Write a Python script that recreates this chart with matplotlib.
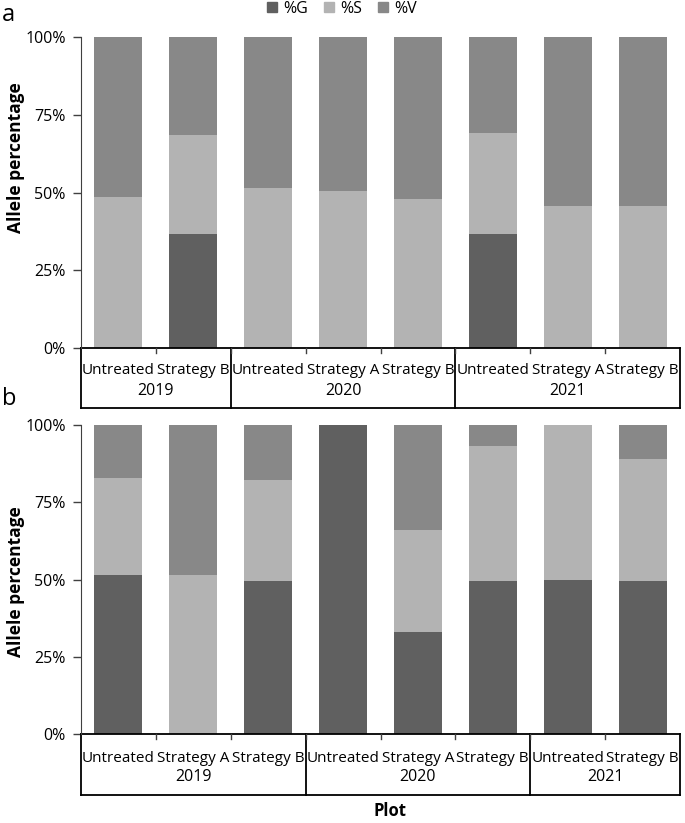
import matplotlib.pyplot as plt
from matplotlib.patches import Patch
from matplotlib.transforms import blended_transform_factory

# panel a data
years_a = ["2019", "2020", "2021"]
plots_a = [["Untreated", "Strategy B"],
           ["Untreated", "Strategy A", "Strategy B"],
           ["Untreated", "Strategy A", "Strategy B"]]
g_a = [0, 36.5, 0, 0, 0, 36.5, 0, 0]
s_a = [48.5, 32.0, 51.5, 50.5, 48.0, 32.5, 45.5, 45.5]
v_a = [51.5, 31.5, 48.5, 49.5, 52.0, 31.0, 54.5, 54.5]

# panel b data
years_b = ["2019", "2020", "2021"]
plots_b = [["Untreated", "Strategy A", "Strategy B"],
           ["Untreated", "Strategy A", "Strategy B"],
           ["Untreated", "Strategy B"]]
g_b = [51.4, 0, 49.6, 100, 32.9, 49.4, 49.9, 49.6]
s_b = [31.5, 51.3, 32.7, 0, 33.2, 43.9, 50.1, 39.3]
v_b = [17.1, 48.7, 17.7, 0, 33.9, 6.7, 0, 11.1]

series_names = ["%G", "%S", "%V"]
colors = ["#606060", "#b3b3b3", "#888888"]

W, H = 685, 823
plt.rcParams['font.family'] = ['Open Sans', 'DejaVu Sans']
fig = plt.figure(figsize=(W / 100, H / 100), dpi=100)


def fy(py):
    # pixel row -> figure fraction
    return 1 - py / H


def draw_panel(top, bottom, box_bottom, row1_y, row2_y, years, plots, g, s, v, ylab_y):
    left, right = 81, 680
    ax = fig.add_axes([left / W, fy(bottom), (right - left) / W, (bottom - top) / H])
    ax.patch.set_visible(False)
    n = sum(len(p) for p in plots)
    x = list(range(n))
    ax.bar(x, g, width=0.64, color=colors[0], zorder=2)
    ax.bar(x, s, width=0.64, bottom=g, color=colors[1], zorder=2)
    sv = [a + b for a, b in zip(g, s)]
    ax.bar(x, v, width=0.64, bottom=sv, color=colors[2], zorder=2)
    ax.set_xlim(-0.5, n - 0.5)
    ax.set_ylim(0, 100)
    ax.set_yticks([0, 25, 50, 75, 100])
    ax.set_yticklabels(["0%", "25%", "50%", "75%", "100%"], fontsize=11.5)
    ax.tick_params(axis='y', length=6, width=1, color='#404040', pad=5)
    ax.set_xticks([])
    for side in ['top', 'right', 'bottom']:
        ax.spines[side].set_visible(False)
    ax.spines['left'].set_color('#404040')
    fig.text(16 / W, fy(ylab_y), "Allele percentage", fontsize=12.5, fontweight='bold',
             rotation=90, ha='center', va='center')

    tr = blended_transform_factory(ax.transData, fig.transFigure)
    lw = 1.3
    # top and bottom of label box
    ax.plot([-0.5, n - 0.5], [fy(bottom), fy(bottom)], transform=tr, color='black', lw=lw, clip_on=False)
    ax.plot([-0.5, n - 0.5], [fy(box_bottom), fy(box_bottom)], transform=tr, color='black', lw=lw, clip_on=False)
    # group separators and ticks
    i = 0
    edges = [-0.5]
    for grp in plots:
        i += len(grp)
        edges.append(i - 0.5)
    for e in edges:
        ax.plot([e, e], [fy(bottom), fy(box_bottom)], transform=tr, color='black', lw=lw, clip_on=False)
    for k in range(1, n):
        ax.plot([k - 0.5, k - 0.5], [fy(bottom), fy(bottom + 5)], transform=tr,
                color='#404040', lw=1, clip_on=False)
    # labels
    idx = 0
    for yr, grp in zip(years, plots):
        for name in grp:
            ax.text(idx, fy(row1_y), name, transform=tr, ha='center', va='center', fontsize=11)
            idx += 1
        mid = idx - len(grp) / 2 - 0.5
        ax.text(mid, fy(row2_y), yr, transform=tr, ha='center', va='center', fontsize=11.5)
    return ax


draw_panel(37, 348, 408, 371, 391, years_a, plots_a, g_a, s_a, v_a, 158)
draw_panel(425, 734, 795, 758, 777, years_b, plots_b, g_b, s_b, v_b, 582)

fig.text(2 / W, fy(15), "a", fontsize=17, ha='left', va='center')
fig.text(2 / W, fy(399), "b", fontsize=17, ha='left', va='center')

handles = [Patch(color=c) for c in colors]
fig.legend(handles, series_names, loc='center', bbox_to_anchor=(342 / W, fy(9)), ncol=3,
           frameon=False, fontsize=11.5, handlelength=0.6, handleheight=0.6,
           handletextpad=0.4, columnspacing=1.0)

fig.text(390 / W, fy(811), "Plot", fontsize=12, fontweight='bold', ha='center', va='center')

fig.savefig("out.png", dpi=100)
